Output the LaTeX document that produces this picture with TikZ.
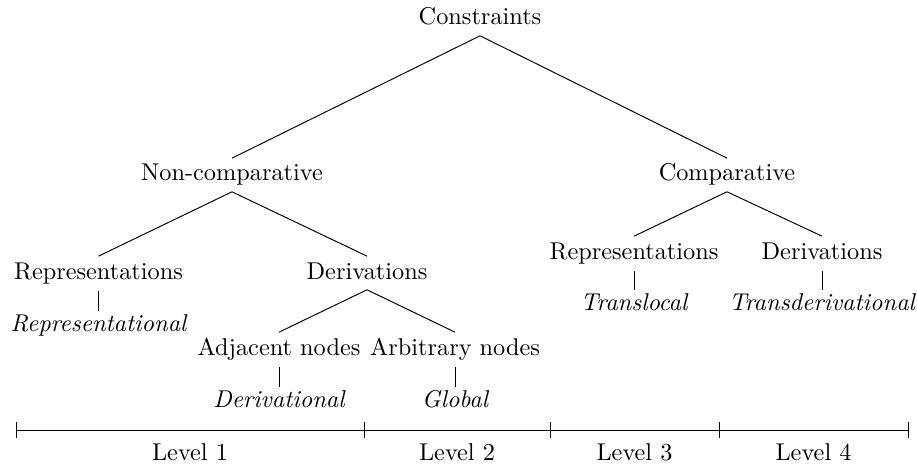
\documentclass[tikz,border=0pt]{standalone}
\begin{document}
\begin{tikzpicture}[x=0.4115pt,y=-0.4115pt,
  lbl/.style={anchor=base,inner sep=2.3pt,text height=6.9pt,text depth=1.95pt},
  leaf/.style={lbl,font=\itshape},
  vedge/.style={shorten <=0.65pt,shorten >=-1pt}]
\useasboundingbox (0,0) rectangle (917,466);
% tree nodes
\node[lbl] (con) at (480,25) {Constraints};
\node[lbl] (nc) at (232,181) {Non-comparative};
\node[lbl] (co) at (727,181) {Comparative};
\node[lbl] (rl) at (98.5,279) {Representations};
\node[lbl] (dl) at (367,279) {Derivations};
\node[leaf] (rep) at (98.5,331) {Representational};
\node[lbl] (adj) at (279,355) {Adjacent nodes};
\node[lbl] (arb) at (455,355) {Arbitrary nodes};
\node[leaf] (der) at (279,407.5) {Derivational};
\node[leaf] (glo) at (455,407.5) {Global};
\node[lbl] (rr) at (634,259) {Representations};
\node[lbl] (dr) at (822,259) {Derivations};
\node[leaf] (tl) at (634,310.5) {Translocal};
\node[leaf] (td) at (822,310.5) {Transderivational};
% edges
\draw (con.south) -- (nc.north);
\draw (con.south) -- (co.north);
\draw (nc.south) -- (rl.north);
\draw (nc.south) -- (dl.north);
\draw (co.south) -- (rr.north);
\draw (co.south) -- (dr.north);
\draw (dl.south) -- (adj.north);
\draw (dl.south) -- (arb.north);
\draw[vedge] (rl.south) -- (rep.north);
\draw[vedge] (adj.south) -- (der.north);
\draw[vedge] (arb.south) -- (glo.north);
\draw[vedge] (rr.south) -- (tl.north);
\draw[vedge] (dr.south) -- (td.north);
% axis
\coordinate (t0) at (16,430);
\coordinate (t1) at (364,430);
\coordinate (t2) at (550,430);
\coordinate (t3) at (719,430);
\coordinate (t4) at (908,430);
\draw (t0) -- (t4);
\foreach \t in {t0,t1,t2,t3,t4}
  \draw ([yshift=-3.1pt]\t) -- ([yshift=3.1pt]\t);
\node[lbl] (l1) at (190,460) {Level 1};
\node[lbl] (l2) at (457,460) {Level 2};
\node[lbl] (l3) at (634.5,460) {Level 3};
\node[lbl] (l4) at (813.5,460) {Level 4};
\end{tikzpicture}
\end{document}
